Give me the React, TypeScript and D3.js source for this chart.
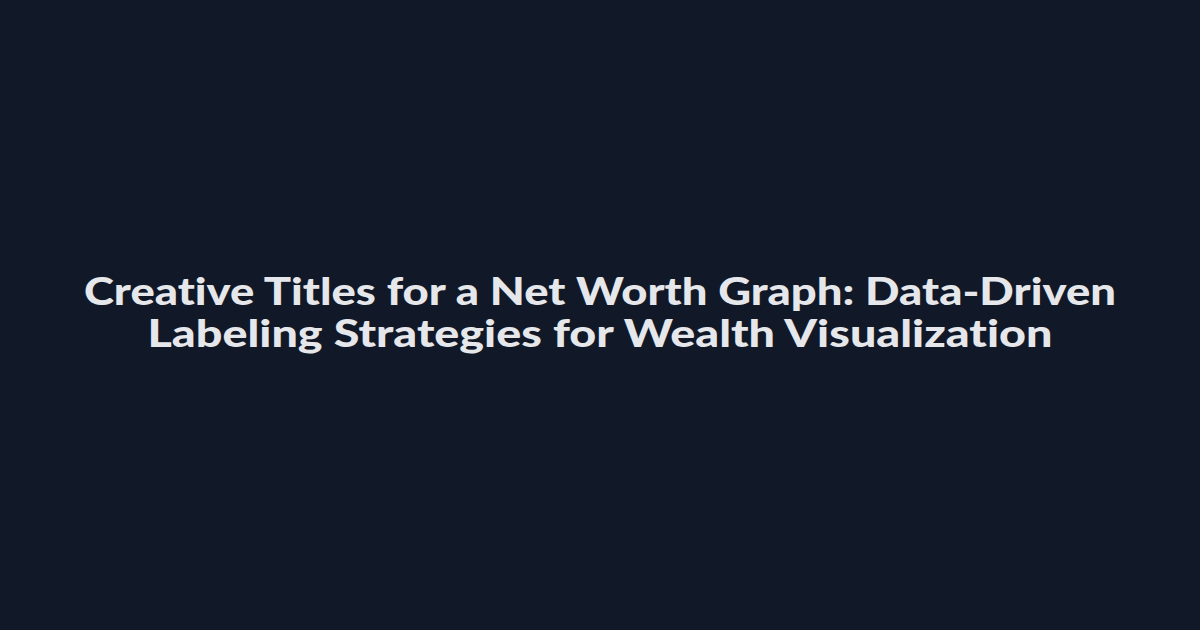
import { useEffect, useRef } from 'react';
import * as d3 from 'd3';

const titleLines = [
  'Creative Titles for a Net Worth Graph: Data-Driven',
  'Labeling Strategies for Wealth Visualization',
];
// measured width of each line in the reference, px
const lineWidths = [1032, 905];

const W = 1200;
const H = 630;

export default function App() {
  const svgRef = useRef<SVGSVGElement>(null);

  useEffect(() => {
    if (!svgRef.current) return;
    const svg = d3.select(svgRef.current);
    svg.selectAll('*').remove();

    svg.append('rect').attr('width', W).attr('height', H).attr('fill', '#111827');

    const y = d3.scaleBand().domain(titleLines).range([272, 356]).padding(0);

    svg
      .append('g')
      .selectAll('text')
      .data(titleLines)
      .join('text')
      .attr('x', W / 2)
      .attr('y', (d) => (y(d) ?? 0) + y.bandwidth() * 0.78)
      .attr('text-anchor', 'middle')
      .attr('fill', '#e5e7eb')
      .attr('font-family', 'Lato, "Open Sans", sans-serif')
      .attr('font-weight', 900)
      .attr('font-size', 38)
      .attr('textLength', (d, i) => lineWidths[i])
      .attr('lengthAdjust', 'spacingAndGlyphs')
      .style('font-variant-ligatures', 'none')
      .text((d) => d);
  }, []);

  return (
    <div style={{ position: 'fixed', left: 0, top: 0, width: W, height: H, background: '#111827' }}>
      <svg ref={svgRef} width={W} height={H} style={{ display: 'block' }} />
    </div>
  );
}
